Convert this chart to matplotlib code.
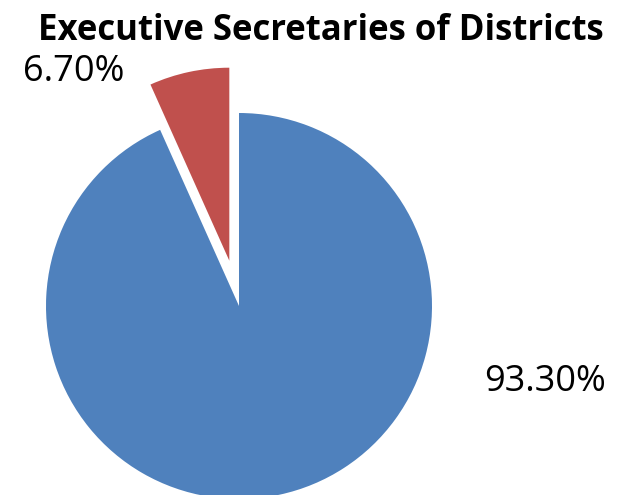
import matplotlib
matplotlib.use("Agg")
import matplotlib.pyplot as plt

title = "Executive Secretaries of Districts"
labels = ["93.30%", "6.70%"]
values = [93.30, 6.70]
colors = ["#4F81BD", "#C0504D"]

W, H = 631, 495
fig = plt.figure(figsize=(W / 100, H / 100), dpi=100)
ax = fig.add_axes([0, 0, 1, 1])

cx, cy, r = 239, 495 - 306, 193
explode = [0, 0.24 * r]
ax.pie(values, colors=colors, explode=explode, startangle=90, counterclock=False,
       center=(cx, cy), radius=r, wedgeprops=dict(linewidth=0))
ax.set_xlim(0, W)
ax.set_ylim(0, H)
ax.set_aspect("equal")
ax.axis("off")

fig.text(321 / W, 1 - 31 / H, title, ha="center", va="center",
         fontsize=25, fontweight="bold", family=["Open Sans", "DejaVu Sans"])
ax.text(545, H - 382, labels[0], ha="center", va="center", fontsize=26,
        family=["Open Sans", "DejaVu Sans"])
ax.text(74, H - 72, labels[1], ha="center", va="center", fontsize=26,
        family=["Open Sans", "DejaVu Sans"])

fig.savefig("out.png", dpi=100)
